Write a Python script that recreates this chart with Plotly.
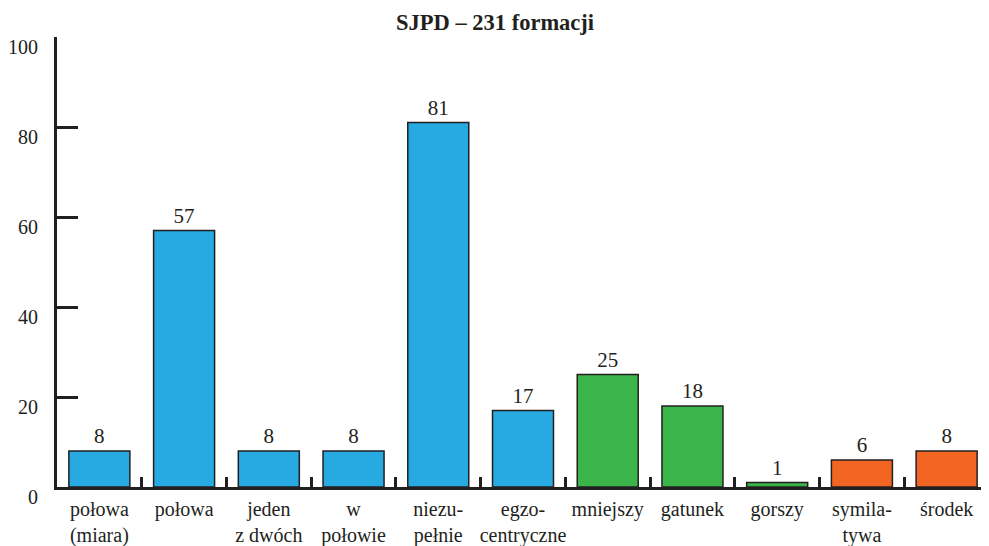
import plotly.graph_objects as go

categories = ["połowa<br>(miara)", "połowa", "jeden<br>z dwóch", "w<br>połowie",
              "niezu-<br>pełnie", "egzo-<br>centryczne", "mniejszy", "gatunek",
              "gorszy", "symila-<br>tywa", "środek"]
values = [8, 57, 8, 8, 81, 17, 25, 18, 1, 6, 8]
groups = ["blue"] * 6 + ["green"] * 3 + ["orange"] * 2
palette = {"blue": "#27a9e1", "green": "#3bb54a", "orange": "#f26522"}
y_ticks = [0, 20, 40, 60, 80, 100]
title = "SJPD – 231 formacji"

ink = "#231f20"
font = "Liberation Serif, DejaVu Serif, serif"

fig = go.Figure(go.Bar(
    x=categories, y=values,
    marker=dict(color=[palette[g] for g in groups], line=dict(color=ink, width=1.5)),
    text=[str(v) for v in values], textposition="outside",
    textfont=dict(family=font, size=21, color=ink),
    cliponaxis=False,
))

# page body has an 8px default margin; size the figure to fit the 989x546 window
fig.update_layout(
    width=981, height=538,
    margin=dict(l=49, r=0, t=29, b=59, autoexpand=False),
    plot_bgcolor="white", paper_bgcolor="white",
    bargap=0.28,
    showlegend=False,
    title=dict(text="<b>" + title + "</b>", x=0.4965, xanchor="center", y=0.974, yanchor="middle",
               font=dict(family=font, size=22.5, color=ink)),
    font=dict(family=font, size=20, color=ink),
)
fig.update_xaxes(
    type="category", range=[-0.5, len(categories) - 0.5],
    showline=True, linecolor=ink, linewidth=3,
    ticks="inside", tickson="boundaries", ticklen=10, tickwidth=3, tickcolor=ink,
    showgrid=False, tickfont=dict(family=font, size=20, color=ink),
    tickangle=0, automargin=False,
    ticklabelstandoff=2,
)
fig.update_yaxes(
    range=[0, 100], tickvals=y_ticks,
    showline=True, linecolor=ink, linewidth=3,
    ticks="inside", ticklen=21, tickwidth=3, tickcolor=ink,
    showgrid=False, zeroline=False, automargin=False,
    tickfont=dict(family=font, size=20, color=ink),
    ticklabelstandoff=12, ticklabelshift=10,
)

fig.write_html("out.html")
